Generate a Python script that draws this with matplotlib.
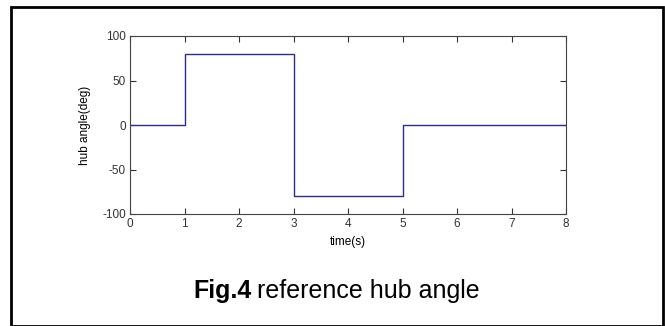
import matplotlib
matplotlib.use("Agg")
import matplotlib.pyplot as plt
from matplotlib.patches import Rectangle

# Data
time_s = [0, 1, 3, 5, 8]
hub_angle = [0, 80, -80, 0, 0]
xticks = [0, 1, 2, 3, 4, 5, 6, 7, 8]
yticks = [-100, -50, 0, 50, 100]

plt.rcParams['font.family'] = ['Liberation Sans', 'DejaVu Sans']
plt.rcParams['axes.unicode_minus'] = False

W, H = 665, 326
fig = plt.figure(figsize=(W / 100, H / 100), dpi=100)
fig.patch.set_facecolor('white')

# outer frame
fig.patches.append(Rectangle((11 / W, 0.5 / H), (663 - 11) / W, (H - 7 - 0.5) / H,
                             transform=fig.transFigure, fill=False,
                             edgecolor='black', linewidth=2))

left, right, top, bottom = 130, 566, 36, 214
ax = fig.add_axes([left / W, 1 - bottom / H, (right - left) / W, (bottom - top) / H])

ax.plot(time_s, hub_angle, drawstyle='steps-post', color='#2c2c94', linewidth=1.0)
ax.set_xlim(0, 8)
ax.set_ylim(-100, 100)
ax.set_xticks(xticks)
ax.set_yticks(yticks)
ax.tick_params(direction='in', top=True, right=True, length=4, width=0.8,
               colors='#333333', labelsize=8.5, pad=3)
for sp in ax.spines.values():
    sp.set_color('#444444')
    sp.set_linewidth(0.8)

ax.set_xlabel('time(s)', fontsize=8.5, labelpad=4)
ax.set_ylabel('hub angle(deg)', fontsize=8.5, labelpad=8)

t1 = fig.text(193 / W, 1 - 298 / H, 'Fig.4', fontsize=18, fontweight='bold',
              ha='left', va='baseline')
fig.canvas.draw()
bb = t1.get_window_extent()
fig.text((bb.x1 + 6) / W, 1 - 298 / H, 'reference hub angle', fontsize=18,
         ha='left', va='baseline')

fig.savefig('out.png', dpi=100)
